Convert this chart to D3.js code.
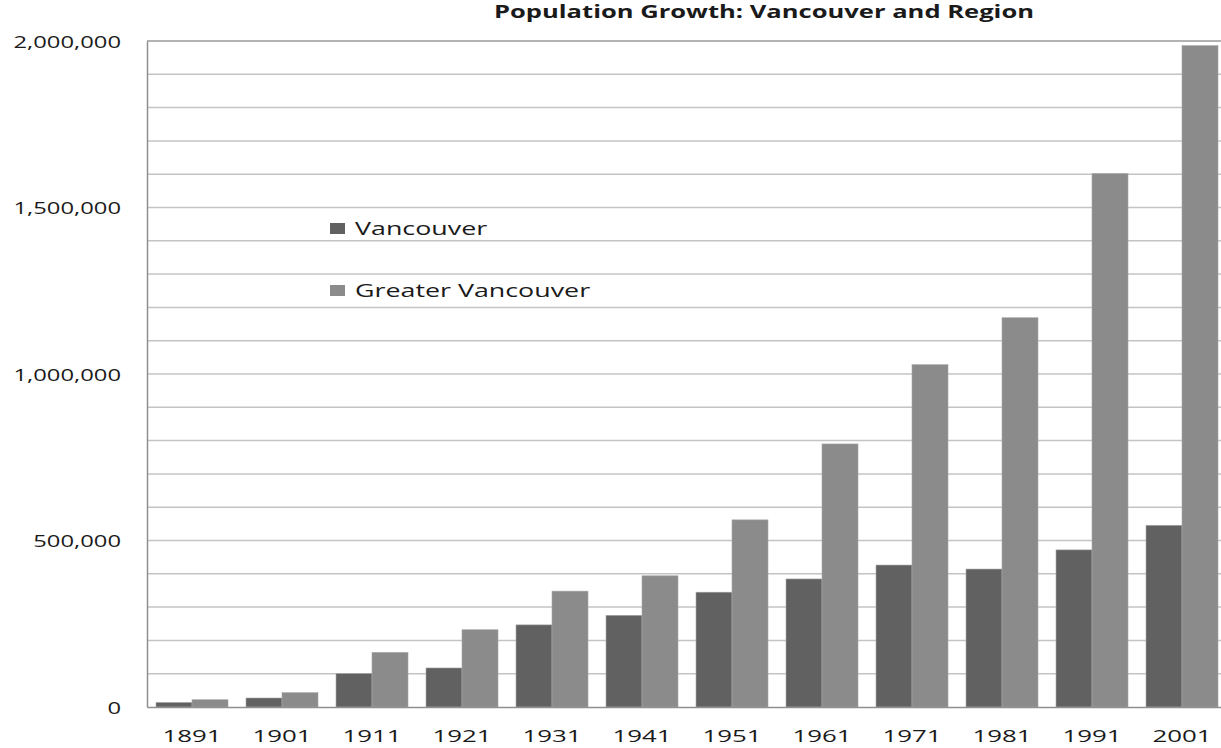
<!DOCTYPE html>
<html>
<head>
<meta charset="utf-8">
<script src="https://cdn.jsdelivr.net/npm/d3@7/dist/d3.min.js"></script>
<style>
  html, body { margin: 0; padding: 0; background: #fff; }
  svg { display: block; }
  text { font-family: "Open Sans", "Noto Sans", sans-serif; fill: #1a1a1a; }
</style>
</head>
<body>
<svg id="chart" width="1221" height="748"></svg>
<script>
// ---- data ----
const title = "Population Growth: Vancouver and Region";
const years = ["1891", "1901", "1911", "1921", "1931", "1941", "1951", "1961", "1971", "1981", "1991", "2001"];
const seriesNames = ["Vancouver", "Greater Vancouver"];
const vancouver = [13700, 27000, 100400, 117200, 246600, 275400, 344800, 384500, 426300, 414300, 471800, 545700];
const greaterVancouver = [21900, 43000, 164000, 232000, 348000, 394000, 562000, 790000, 1028000, 1169000, 1602000, 1986000];
const yTicks = [0, 500000, 1000000, 1500000, 2000000];
const seriesColors = ["#616161", "#8b8b8b"];

// ---- layout ----
const svg = d3.select("#chart");
const margin = { left: 147, top: 41, right: 1227, bottom: 707 };
const SY = 1.4;  // horizontal stretch of y tick labels
const SXX = 1.52; // horizontal stretch of x tick labels

const x0 = d3.scaleBand().domain(years).range([margin.left, margin.right]).paddingInner(0).paddingOuter(0);
const x1 = d3.scaleBand().domain(seriesNames).range([x0.bandwidth() * 0.1, x0.bandwidth() * 0.9]);
const y = d3.scaleLinear().domain([0, 2000000]).range([margin.bottom, margin.top]);
const color = d3.scaleOrdinal().domain(seriesNames).range(seriesColors);

const rows = years.map((yr, i) => ({ year: yr, values: [
  { key: seriesNames[0], value: vancouver[i] },
  { key: seriesNames[1], value: greaterVancouver[i] }
]}));

// gridlines every 100,000
const gridVals = d3.range(100000, 2000001, 100000);
svg.append("g").selectAll("line").data(gridVals).join("line")
  .attr("x1", margin.left).attr("x2", 1221)
  .attr("y1", d => y(d)).attr("y2", d => y(d))
  .attr("stroke", d => d === 2000000 ? "#9a9a9a" : "#c4c4c4")
  .attr("stroke-width", 1.5);

// bars
const groups = svg.append("g").selectAll("g").data(rows).join("g")
  .attr("transform", d => `translate(${x0(d.year)},0)`);
groups.selectAll("rect").data(d => d.values).join("rect")
  .attr("x", d => x1(d.key))
  .attr("width", x1.bandwidth())
  .attr("y", d => y(d.value))
  .attr("height", d => y(0) - y(d.value))
  .attr("fill", d => color(d.key))
  .attr("stroke", "#a8a8a8")
  .attr("stroke-width", 0.6);

// y axis
const yAxis = svg.append("g").attr("transform", `translate(${margin.left},0)`)
  .call(d3.axisLeft(y).tickValues(yTicks).tickFormat(d3.format(",")).tickSize(0).tickPadding(0));
yAxis.select(".domain").attr("stroke", "#8f8f8f").attr("stroke-width", 1.5);
yAxis.selectAll("text")
  .attr("x", -26 / SY)
  .attr("dy", "0.36em")
  .attr("transform", `scale(${SY},1)`)
  .style("font-size", "17px")
  .style("font-family", "'Open Sans', sans-serif")
  .attr("fill", "#1a1a1a");

// x axis
const xAxis = svg.append("g").attr("transform", `translate(0,${margin.bottom})`)
  .call(d3.axisBottom(x0).tickSize(0).tickPadding(0));
xAxis.select(".domain").attr("stroke", "#8f8f8f").attr("stroke-width", 1.5);
xAxis.selectAll("text")
  .attr("y", 35)
  .attr("dy", 0)
  .attr("transform", `scale(${SXX},1)`)
  .style("font-size", "17px")
  .style("font-family", "'Open Sans', sans-serif")
  .attr("fill", "#1a1a1a");

// title
svg.append("text")
  .attr("x", 494).attr("y", 18)
  .attr("textLength", 540).attr("lengthAdjust", "spacingAndGlyphs")
  .style("font-size", "17px").style("font-weight", "bold")
  .text(title);

// legend
const legend = svg.append("g").selectAll("g").data(seriesNames).join("g")
  .attr("transform", (d, i) => `translate(330,${223 + i * 62})`);
legend.append("rect")
  .attr("width", 15).attr("height", 11)
  .attr("fill", d => color(d));
legend.append("text")
  .attr("x", 25 / 1.45).attr("y", 12)
  .attr("transform", "scale(1.45,1)")
  .style("font-size", "18.5px")
  .text(d => d);
</script>
</body>
</html>
